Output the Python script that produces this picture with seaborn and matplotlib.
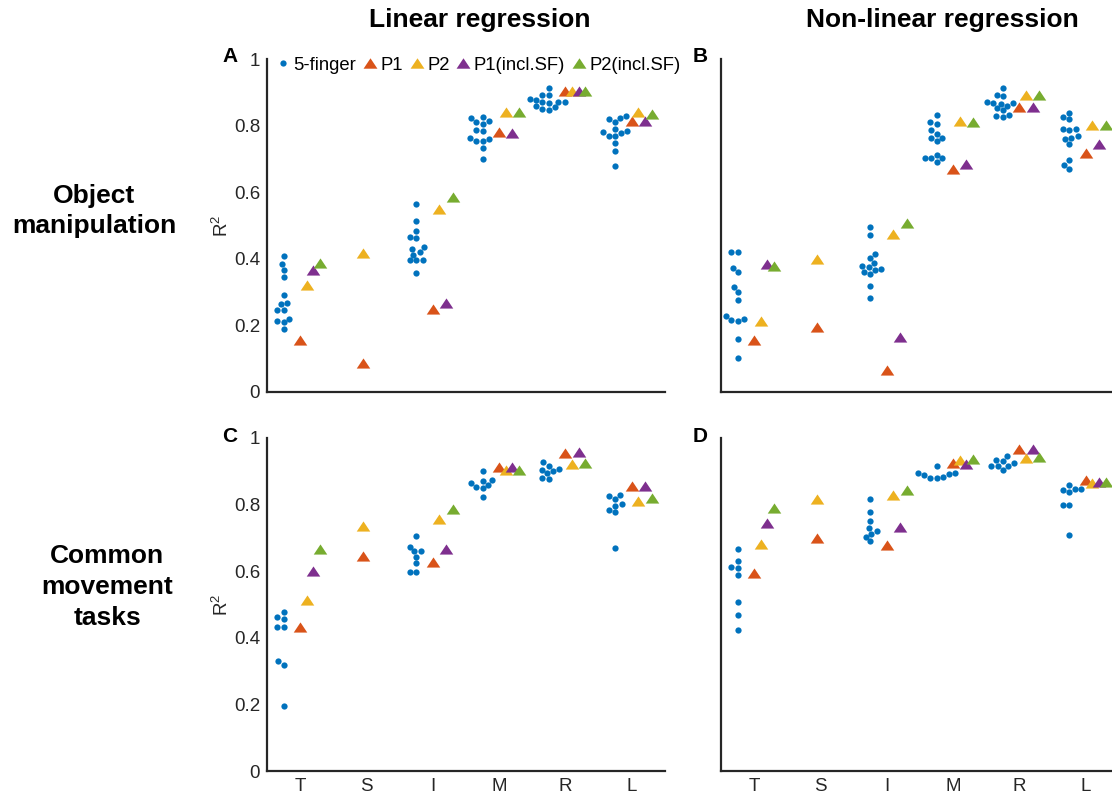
import numpy as np
import pandas as pd
import matplotlib
matplotlib.use("Agg")
import matplotlib.pyplot as plt
from matplotlib.path import Path
from matplotlib.lines import Line2D
import seaborn as sns

# ---------------- data ----------------
categories = ["T", "S", "I", "M", "R", "L"]
methods = ["P1", "P2", "P1(incl.SF)", "P2(incl.SF)"]

# 5-finger dots (no S category)
dots_A = {
    "T": [0.407, 0.385, 0.367, 0.346, 0.292, 0.268, 0.263, 0.247, 0.246, 0.219, 0.213, 0.209, 0.189],
    "I": [0.566, 0.513, 0.484, 0.464, 0.462, 0.434, 0.430, 0.419, 0.412, 0.397, 0.396, 0.395, 0.356],
    "M": [0.825, 0.822, 0.814, 0.810, 0.806, 0.787, 0.784, 0.763, 0.760, 0.755, 0.753, 0.732, 0.700],
    "R": [0.913, 0.893, 0.892, 0.880, 0.878, 0.872, 0.871, 0.871, 0.868, 0.858, 0.855, 0.851, 0.848],
    "L": [0.828, 0.824, 0.819, 0.811, 0.789, 0.785, 0.780, 0.778, 0.769, 0.769, 0.747, 0.725, 0.679],
}
dots_B = {
    "T": [0.419, 0.419, 0.373, 0.361, 0.314, 0.299, 0.276, 0.228, 0.218, 0.215, 0.214, 0.159, 0.102],
    "I": [0.494, 0.470, 0.413, 0.401, 0.388, 0.378, 0.376, 0.370, 0.366, 0.361, 0.353, 0.319, 0.281],
    "M": [0.831, 0.812, 0.805, 0.786, 0.776, 0.764, 0.764, 0.754, 0.712, 0.704, 0.702, 0.702, 0.691],
    "R": [0.912, 0.892, 0.888, 0.870, 0.868, 0.868, 0.866, 0.860, 0.852, 0.846, 0.832, 0.829, 0.826],
    "L": [0.838, 0.825, 0.819, 0.789, 0.789, 0.786, 0.769, 0.764, 0.759, 0.745, 0.696, 0.682, 0.670],
}
dots_C = {
    "T": [0.477, 0.462, 0.457, 0.431, 0.431, 0.329, 0.319, 0.194],
    "I": [0.706, 0.674, 0.662, 0.661, 0.643, 0.624, 0.597, 0.597],
    "M": [0.900, 0.875, 0.870, 0.865, 0.860, 0.853, 0.850, 0.823],
    "R": [0.927, 0.917, 0.907, 0.905, 0.900, 0.895, 0.880, 0.877],
    "L": [0.830, 0.825, 0.818, 0.802, 0.797, 0.785, 0.778, 0.670],
}
dots_D = {
    "T": [0.668, 0.632, 0.612, 0.609, 0.588, 0.507, 0.468, 0.422],
    "I": [0.818, 0.778, 0.752, 0.729, 0.721, 0.712, 0.704, 0.691],
    "M": [0.915, 0.895, 0.895, 0.892, 0.888, 0.882, 0.880, 0.880],
    "R": [0.945, 0.933, 0.930, 0.925, 0.915, 0.915, 0.915, 0.903],
    "L": [0.859, 0.848, 0.848, 0.845, 0.838, 0.800, 0.800, 0.709],
}

nan = np.nan
# triangles: values per category T, S, I, M, R, L
tri_A = {
    "P1":          [0.157, 0.088, 0.250, 0.781, 0.903, 0.814],
    "P2":          [0.321, 0.418, 0.550, 0.840, 0.905, 0.840],
    "P1(incl.SF)": [0.366, nan,   0.267, 0.778, 0.903, 0.814],
    "P2(incl.SF)": [0.386, nan,   0.587, 0.842, 0.905, 0.836],
}
tri_B = {
    "P1":          [0.155, 0.194, 0.067, 0.671, 0.857, 0.719],
    "P2":          [0.213, 0.398, 0.473, 0.814, 0.891, 0.802],
    "P1(incl.SF)": [0.384, nan,   0.165, 0.684, 0.857, 0.744],
    "P2(incl.SF)": [0.379, nan,   0.508, 0.812, 0.891, 0.802],
}
tri_C = {
    "P1":          [0.432, 0.646, 0.628, 0.913, 0.955, 0.857],
    "P2":          [0.514, 0.736, 0.757, 0.903, 0.922, 0.812],
    "P1(incl.SF)": [0.602, nan,   0.667, 0.913, 0.957, 0.857],
    "P2(incl.SF)": [0.666, nan,   0.788, 0.905, 0.925, 0.820],
}
tri_D = {
    "P1":          [0.596, 0.699, 0.679, 0.925, 0.967, 0.875],
    "P2":          [0.682, 0.817, 0.830, 0.933, 0.940, 0.865],
    "P1(incl.SF)": [0.746, nan,   0.732, 0.922, 0.967, 0.867],
    "P2(incl.SF)": [0.790, nan,   0.845, 0.937, 0.942, 0.867],
}

col_titles = ["Linear regression", "Non-linear regression"]
row_titles = ["Object\nmanipulation", "Common\nmovement\ntasks"]
panel_letters = ["A", "B", "C", "D"]
ytick_vals = [0, 0.2, 0.4, 0.6, 0.8, 1]
ytick_labels = ["0", "0.2", "0.4", "0.6", "0.8", "1"]

# ---------------- style ----------------
colors = {"5-finger": "#0072BD", "P1": "#D95319", "P2": "#EDB120",
          "P1(incl.SF)": "#7E2F8E", "P2(incl.SF)": "#77AC30"}
method_offset = {"P1": 0.0, "P2": 0.1, "P1(incl.SF)": 0.2, "P2(incl.SF)": 0.3}
s_offset = -0.05
dot_offset = -0.25
axis_color = "#262626"

sns.set_style("white")
plt.rcParams["font.family"] = ["Liberation Sans", "DejaVu Sans"]
plt.rcParams["mathtext.default"] = "regular"

tri_marker = Path([(-1, -0.75), (1, -0.75), (0, 0.75), (-1, -0.75)],
                  [Path.MOVETO, Path.LINETO, Path.LINETO, Path.CLOSEPOLY])

W, H = 1112, 796
fig = plt.figure(figsize=(W / 100, H / 100), dpi=100)


def frac_rect(x0, y0, x1, y1):
    return [x0 / W, 1 - y1 / H, (x1 - x0) / W, (y1 - y0) / H]


rects = [frac_rect(267, 59, 665, 392), frac_rect(721, 59, 1119, 392),
         frac_rect(267, 438, 665, 771), frac_rect(721, 438, 1119, 771)]
all_dots = [dots_A, dots_B, dots_C, dots_D]
all_tris = [tri_A, tri_B, tri_C, tri_D]
cat_pos = {c: i for i, c in enumerate(categories)}

axes = []
for k in range(4):
    ax = fig.add_axes(rects[k])
    axes.append(ax)
    # dots
    rows = []
    for c, vals in all_dots[k].items():
        for v in vals:
            rows.append({"x": cat_pos[c] + dot_offset, "r2": v})
    ddf = pd.DataFrame(rows)
    sns.swarmplot(data=ddf, x="x", y="r2", native_scale=True, orient="x",
                  color=colors["5-finger"], size=4.5, linewidth=0, ax=ax,
                  zorder=3)
    # triangles
    trows = []
    for m in methods:
        for c, v in zip(categories, all_tris[k][m]):
            if np.isnan(v):
                continue
            off = s_offset if c == "S" else method_offset[m]
            trows.append({"x": cat_pos[c] + off, "r2": v, "method": m})
    tdf = pd.DataFrame(trows)
    for m in methods:
        sns.scatterplot(data=tdf[tdf.method == m], x="x", y="r2",
                        color=colors[m], marker=tri_marker, s=95,
                        linewidth=0, ax=ax, legend=False, zorder=4)

    ax.set_xlim(-0.5, 5.5)
    ax.set_ylim(0, 1)
    ax.set_xticks(range(len(categories)))
    ax.set_yticks(ytick_vals)
    for side in ["top", "right"]:
        ax.spines[side].set_visible(False)
    for side in ["left", "bottom"]:
        ax.spines[side].set_color(axis_color)
        ax.spines[side].set_linewidth(1.6)
    ax.tick_params(direction="in", length=4.5, width=1.6, color=axis_color,
                   labelcolor=axis_color, labelsize=13.5, pad=5)
    if k >= 2:
        ax.set_xticklabels(categories)
    else:
        ax.set_xticklabels([])
    if k % 2 == 0:
        ax.set_yticklabels(ytick_labels)
        ax.set_ylabel("R$^2$", fontsize=13.5, color=axis_color, labelpad=1)
    else:
        ax.set_yticklabels([])
        ax.set_ylabel("")
    ax.set_xlabel("")
    ax.patch.set_alpha(0)

# titles
fig.text(480 / W, 1 - 20 / H, col_titles[0], ha="center", va="center",
         fontsize=19, fontweight="bold", color="black")
fig.text(942 / W, 1 - 20 / H, col_titles[1], ha="center", va="center",
         fontsize=19, fontweight="bold", color="black")
fig.text(94 / W, 1 - 211 / H, row_titles[0], ha="center", va="center",
         fontsize=19, fontweight="bold", linespacing=1.35, color="black")
fig.text(107 / W, 1 - 587 / H, row_titles[1], ha="center", va="center",
         fontsize=19, fontweight="bold", linespacing=1.35, color="black")
for letter, (x, y) in zip(panel_letters, [(230, 57), (700, 57), (230, 437), (700, 437)]):
    fig.text(x / W, 1 - y / H, letter, ha="center", va="center",
             fontsize=15, fontweight="bold", color="black")

# legend
handles = [Line2D([], [], linestyle="none", marker="o", markersize=4.5,
                  markerfacecolor=colors["5-finger"], markeredgewidth=0)]
for m in methods:
    handles.append(Line2D([], [], linestyle="none", marker=tri_marker,
                          markersize=10, markerfacecolor=colors[m],
                          markeredgewidth=0))
leg = fig.legend(handles, ["5-finger"] + methods, loc="center left",
                 bbox_to_anchor=(277.5 / W, 1 - 65 / H), ncol=5, frameon=False,
                 fontsize=13.3, handlelength=0.6, handletextpad=0.26,
                 columnspacing=0.45, borderpad=0, borderaxespad=0)
for t in leg.get_texts():
    t.set_color("black")

fig.savefig("out.png", dpi=100)
